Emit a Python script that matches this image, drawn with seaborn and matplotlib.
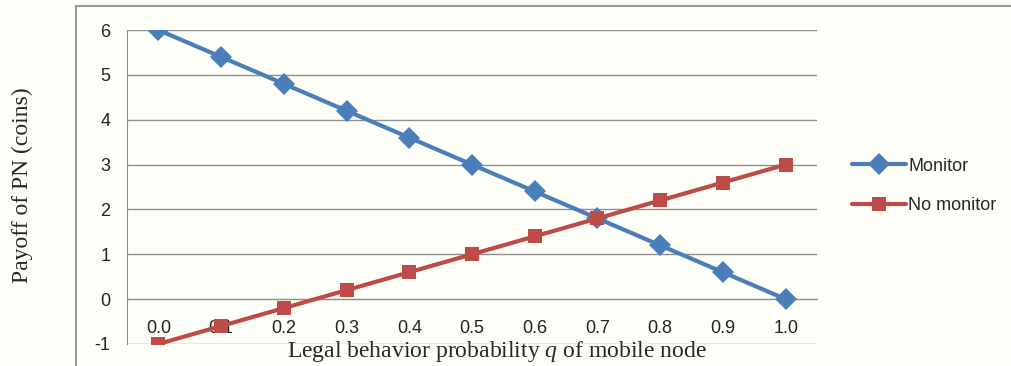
import numpy as np
import pandas as pd
import seaborn as sns
import matplotlib.pyplot as plt
from matplotlib.lines import Line2D
from matplotlib.ticker import FixedLocator

# data
q_labels = ['0.0', '0.1', '0.2', '0.3', '0.4', '0.5', '0.6', '0.7', '0.8', '0.9', '1.0']
monitor = [6.0, 5.4, 4.8, 4.2, 3.6, 3.0, 2.4, 1.8, 1.2, 0.6, 0.0]
no_monitor = [-1.0, -0.6, -0.2, 0.2, 0.6, 1.0, 1.4, 1.8, 2.2, 2.6, 3.0]
y_ticks = [-1, 0, 1, 2, 3, 4, 5, 6]

sns.set_style('white')
plt.rcParams['font.family'] = ['Liberation Sans', 'DejaVu Sans']
plt.rcParams['mathtext.fontset'] = 'custom'
plt.rcParams['mathtext.it'] = 'Liberation Serif:italic'
plt.rcParams['mathtext.rm'] = 'Liberation Serif'

bg = '#fffffa'
grid_c = '#8e8e8e'
blue = '#4a7ebb'
red = '#be4b48'
lw = 3.0
ms_d, ms_s = 11, 10.5

df = pd.DataFrame({
    'q': list(range(len(q_labels))) * 2,
    'payoff': monitor + no_monitor,
    'series': ['Monitor'] * len(monitor) + ['No monitor'] * len(no_monitor),
})

fig = plt.figure(figsize=(10.11, 3.66), dpi=100, facecolor=bg)
ax = fig.add_axes([127 / 1011, 1 - 344 / 366, (817 - 127) / 1011, (344 - 30) / 366])
ax.set_facecolor(bg)

sns.lineplot(data=df[df.series == 'Monitor'], x='q', y='payoff', ax=ax,
             color=blue, lw=lw, marker='D', markersize=ms_d, markeredgewidth=0,
             label='Monitor', zorder=3)
sns.lineplot(data=df[df.series == 'No monitor'], x='q', y='payoff', ax=ax,
             color=red, lw=lw, marker='s', markersize=ms_s, markeredgewidth=0,
             label='No monitor', zorder=3)

ax.set_xlim(-0.5, len(q_labels) - 0.5)
ax.set_ylim(-1, 6)
ax.set_yticks(y_ticks)
ax.set_yticklabels([str(v) for v in y_ticks])
ax.yaxis.grid(True, color=grid_c, lw=1)
ax.set_axisbelow(True)

ax.set_xticks(range(len(q_labels)))
ax.set_xticklabels(q_labels)
ax.xaxis.set_minor_locator(FixedLocator(np.arange(-0.5, len(q_labels), 1.0)))
ax.tick_params(axis='x', which='major', length=0, pad=15, labelcolor='#222222', labelsize=13)
ax.tick_params(axis='x', which='minor', length=6, width=1, color=grid_c, direction='out')
ax.tick_params(axis='y', length=7, width=1, color=grid_c, direction='out', pad=5,
               labelcolor='#222222', labelsize=13)

for s in ['top', 'right']:
    ax.spines[s].set_visible(False)
ax.spines['bottom'].set_position(('data', 0))
ax.spines['bottom'].set_color(grid_c)
ax.spines['left'].set_color(grid_c)
ax.set_xlabel('')
ax.set_ylabel('')

fig.text(22 / 1011, 1 - 185 / 366, 'Payoff of PN (coins)', rotation=90, va='center', ha='center',
         fontsize=17, family='Liberation Serif')
fig.text(497 / 1011, 1 - 352 / 366, 'Legal behavior probability $q$ of mobile node',
         va='center', ha='center', fontsize=17, family='Liberation Serif')

ax.get_legend().remove()
handles = [Line2D([], [], color=blue, lw=lw, marker='D', markersize=ms_d, markeredgewidth=0),
           Line2D([], [], color=red, lw=lw, marker='s', markersize=ms_s, markeredgewidth=0)]
fig.legend(handles, ['Monitor', 'No monitor'], loc='center left',
           bbox_to_anchor=(836 / 1011, 1 - 186 / 366), frameon=False, fontsize=13,
           handlelength=3.0, handletextpad=0.1, labelspacing=1.25)

# outer chart border
border = '#9a9a9a'
fig.add_artist(Line2D([76 / 1011, 76 / 1011], [0, 1 - 6 / 366], color=border, lw=1.5,
                      transform=fig.transFigure))
fig.add_artist(Line2D([76 / 1011, 1], [1 - 6 / 366, 1 - 6 / 366], color=border, lw=1.5,
                      transform=fig.transFigure))

fig.savefig('out.png', dpi=100, facecolor=bg)
